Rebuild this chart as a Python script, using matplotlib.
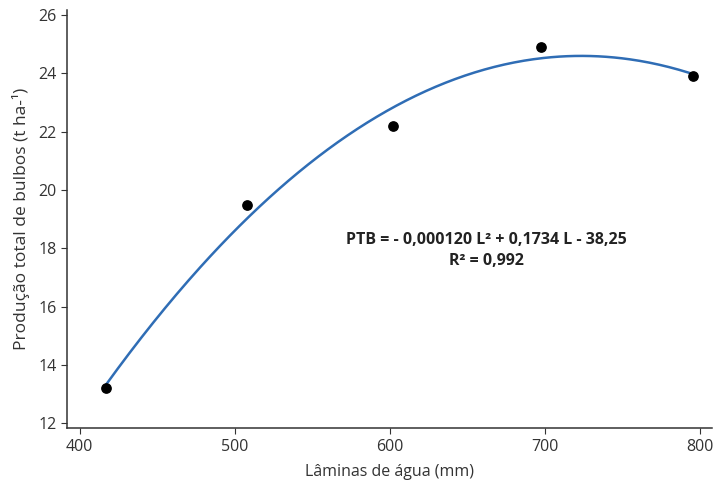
import numpy as np
import matplotlib
matplotlib.use("Agg")
import matplotlib.pyplot as plt

plt.rcParams['font.family'] = ['Open Sans', 'DejaVu Sans']

# dados observados
laminas = [417, 508, 602, 697, 795]
producao = [13.2, 19.5, 22.2, 24.9, 23.9]

xticks = [400, 500, 600, 700, 800]
yticks = [12, 14, 16, 18, 20, 22, 24, 26]

fig = plt.figure(figsize=(7.18, 4.86), dpi=100)
ax = fig.add_axes([0.093, 0.119, 0.899, 0.86])

# ajuste quadrático dos pontos
coef = np.polyfit(laminas, producao, 2)
L = np.linspace(min(laminas), max(laminas), 300)
ax.plot(L, np.polyval(coef, L), color="#2f6db5", lw=1.8, zorder=2)
ax.scatter(laminas, producao, color="black", s=45, zorder=3)

ax.text(662, 18.3, "PTB = - 0,000120 L² + 0,1734 L - 38,25", ha="center", va="center",
        fontsize=11.5, fontweight="bold", color="#222222")
ax.text(662, 17.55, "R² = 0,992", ha="center", va="center",
        fontsize=11.5, fontweight="bold", color="#222222")

ax.set_xlim(391.6, 807.7)
ax.set_ylim(11.83, 26.17)
ax.set_xticks(xticks)
ax.set_yticks(yticks)
ax.set_xlabel("Lâminas de água (mm)", fontsize=11.5, color="#333333", labelpad=7)
ax.set_ylabel("Produção total de bulbos (t ha-¹)", fontsize=12.5, color="#333333", labelpad=6)

for s in ["top", "right"]:
    ax.spines[s].set_visible(False)
for s in ["left", "bottom"]:
    ax.spines[s].set_color("#333333")
    ax.spines[s].set_linewidth(1.1)
ax.tick_params(direction="out", length=4, color="#333333", labelcolor="#333333", labelsize=11.5)

fig.savefig("out.png", dpi=100)
